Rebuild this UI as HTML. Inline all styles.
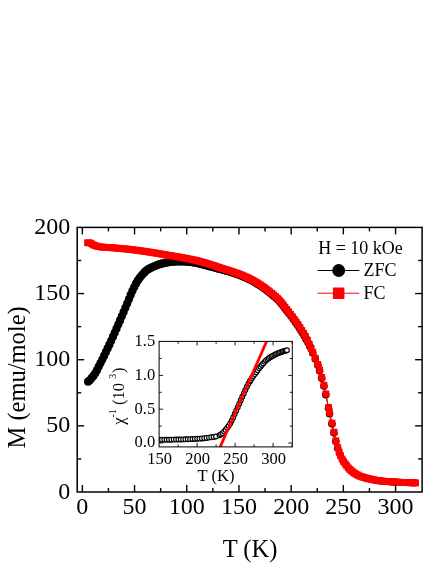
<!DOCTYPE html>
<html><head><meta charset="utf-8"><title>M vs T</title>
<style>html,body{margin:0;padding:0;background:#fff;}body{width:436px;height:564px;position:relative;overflow:hidden;font-family:"Liberation Serif",serif;}</style></head>
<body>
<svg width="436" height="564" viewBox="0 0 436 564" style="position:absolute;left:0;top:0;will-change:transform">
<rect x="0" y="0" width="436" height="564" fill="#fff"/>
<polyline points="88.09,381.66 89.87,380.27 91.64,378.09 93.42,375.93 95.19,373.37 96.97,370.15 98.74,366.62 100.52,363.10 102.29,359.54 104.07,355.89 105.84,352.19 107.61,348.46 109.39,344.68 111.16,340.81 112.94,336.85 114.71,332.81 116.49,328.71 118.26,324.58 120.04,320.43 121.81,316.24 123.59,312.02 125.36,307.77 127.14,303.52 128.91,299.28 130.69,294.94 132.46,290.79 134.24,287.07 136.01,283.63 137.79,280.62 139.56,278.10 141.34,275.80 143.11,273.75 144.89,271.94 146.66,270.36 148.44,269.13 150.21,268.13 151.98,267.27 153.76,266.48 155.53,265.75 157.31,265.08 159.08,264.47 160.86,263.93 162.63,263.45 164.41,263.02 166.18,262.67 167.96,262.34 169.73,262.05 171.51,261.81 173.28,261.66 175.06,261.56 176.83,261.47 178.61,261.42 180.38,261.40 182.16,261.44 183.93,261.51 185.71,261.60 187.48,261.72 189.26,261.88 191.03,262.10 192.81,262.36 194.58,262.64 196.35,262.95 198.13,263.31 199.90,263.73 201.68,264.19 203.45,264.66 205.23,265.14 207.00,265.61 208.78,266.06 210.55,266.52 212.33,266.98 214.10,267.44 215.88,267.92 217.65,268.39 219.43,268.88 221.20,269.36 222.98,269.85 224.75,270.34 226.53,270.84 228.30,271.34 230.08,271.85 231.85,272.36 233.63,272.88 235.40,273.50 237.18,274.13 238.95,274.78 240.72,275.45 242.50,276.16 244.27,276.90 246.05,277.68 247.82,278.52 249.60,279.41 251.37,280.35 253.15,281.33 254.92,282.35 256.70,283.40 258.47,284.49 260.25,285.61 262.02,286.79 263.80,288.03 265.57,289.32 267.35,290.66 269.12,292.04 270.90,293.47 272.67,294.91 274.45,296.40 276.22,297.95 278.00,299.61 279.77,301.42 281.55,303.50 283.32,305.87 285.09,308.24 286.87,310.48 288.64,312.70 290.42,314.95 292.19,317.28 293.97,319.68 295.74,322.15 297.52,324.73 299.29,327.41 301.07,330.19 302.84,333.06 304.62,336.02 306.39,339.20 308.17,342.70 309.94,346.52 312.76,352.95 315.27,359.04 317.88,365.26 319.65,370.81 321.74,378.22 323.93,386.03 325.81,394.63 328.53,408.25 329.57,413.68 331.97,423.87 333.95,432.86 335.83,441.46 337.71,448.34 339.17,453.10 340.43,455.49 342.10,459.06 343.56,461.49 345.12,463.75 346.69,465.85 348.26,467.83 349.82,469.48 351.39,470.89 352.95,472.10 354.52,473.17 356.09,474.13 357.65,475.05 359.22,475.85 360.78,476.48 362.35,476.98 363.92,477.43 365.48,477.88 367.05,478.31 368.61,478.70 370.18,479.05 371.75,479.40 373.31,479.74 374.88,480.06 376.44,480.35 378.01,480.61 379.58,480.83 381.14,481.00 382.71,481.16 384.27,481.31 385.84,481.44 387.41,481.56 388.97,481.68 390.54,481.78 392.10,481.88 393.67,481.97 395.24,482.06 396.80,482.14 398.37,482.23 399.93,482.30 401.50,482.38 403.07,482.45 404.63,482.52 406.20,482.59 407.76,482.65 409.33,482.71 410.90,482.76 412.46,482.80 414.03,482.84 415.59,482.87" fill="none" stroke="#000" stroke-width="1"/>
<g fill="#000">
<circle cx="88.09" cy="381.66" r="4.1"/>
<circle cx="89.87" cy="380.27" r="4.1"/>
<circle cx="91.64" cy="378.09" r="4.1"/>
<circle cx="93.42" cy="375.93" r="4.1"/>
<circle cx="95.19" cy="373.37" r="4.1"/>
<circle cx="96.97" cy="370.15" r="4.1"/>
<circle cx="98.74" cy="366.62" r="4.1"/>
<circle cx="100.52" cy="363.10" r="4.1"/>
<circle cx="102.29" cy="359.54" r="4.1"/>
<circle cx="104.07" cy="355.89" r="4.1"/>
<circle cx="105.84" cy="352.19" r="4.1"/>
<circle cx="107.61" cy="348.46" r="4.1"/>
<circle cx="109.39" cy="344.68" r="4.1"/>
<circle cx="111.16" cy="340.81" r="4.1"/>
<circle cx="112.94" cy="336.85" r="4.1"/>
<circle cx="114.71" cy="332.81" r="4.1"/>
<circle cx="116.49" cy="328.71" r="4.1"/>
<circle cx="118.26" cy="324.58" r="4.1"/>
<circle cx="120.04" cy="320.43" r="4.1"/>
<circle cx="121.81" cy="316.24" r="4.1"/>
<circle cx="123.59" cy="312.02" r="4.1"/>
<circle cx="125.36" cy="307.77" r="4.1"/>
<circle cx="127.14" cy="303.52" r="4.1"/>
<circle cx="128.91" cy="299.28" r="4.1"/>
<circle cx="130.69" cy="294.94" r="4.1"/>
<circle cx="132.46" cy="290.79" r="4.1"/>
<circle cx="134.24" cy="287.07" r="4.1"/>
<circle cx="136.01" cy="283.63" r="4.1"/>
<circle cx="137.79" cy="280.62" r="4.1"/>
<circle cx="139.56" cy="278.10" r="4.1"/>
<circle cx="141.34" cy="275.80" r="4.1"/>
<circle cx="143.11" cy="273.75" r="4.1"/>
<circle cx="144.89" cy="271.94" r="4.1"/>
<circle cx="146.66" cy="270.36" r="4.1"/>
<circle cx="148.44" cy="269.13" r="4.1"/>
<circle cx="150.21" cy="268.13" r="4.1"/>
<circle cx="151.98" cy="267.27" r="4.1"/>
<circle cx="153.76" cy="266.48" r="4.1"/>
<circle cx="155.53" cy="265.75" r="4.1"/>
<circle cx="157.31" cy="265.08" r="4.1"/>
<circle cx="159.08" cy="264.47" r="4.1"/>
<circle cx="160.86" cy="263.93" r="4.1"/>
<circle cx="162.63" cy="263.45" r="4.1"/>
<circle cx="164.41" cy="263.02" r="4.1"/>
<circle cx="166.18" cy="262.67" r="4.1"/>
<circle cx="167.96" cy="262.34" r="4.1"/>
<circle cx="169.73" cy="262.05" r="4.1"/>
<circle cx="171.51" cy="261.81" r="4.1"/>
<circle cx="173.28" cy="261.66" r="4.1"/>
<circle cx="175.06" cy="261.56" r="4.1"/>
<circle cx="176.83" cy="261.47" r="4.1"/>
<circle cx="178.61" cy="261.42" r="4.1"/>
<circle cx="180.38" cy="261.40" r="4.1"/>
<circle cx="182.16" cy="261.44" r="4.1"/>
<circle cx="183.93" cy="261.51" r="4.1"/>
<circle cx="185.71" cy="261.60" r="4.1"/>
<circle cx="187.48" cy="261.72" r="4.1"/>
<circle cx="189.26" cy="261.88" r="4.1"/>
<circle cx="191.03" cy="262.10" r="4.1"/>
<circle cx="192.81" cy="262.36" r="4.1"/>
<circle cx="194.58" cy="262.64" r="4.1"/>
<circle cx="196.35" cy="262.95" r="4.1"/>
<circle cx="198.13" cy="263.31" r="4.1"/>
<circle cx="199.90" cy="263.73" r="4.1"/>
<circle cx="201.68" cy="264.19" r="4.1"/>
<circle cx="203.45" cy="264.66" r="4.1"/>
<circle cx="205.23" cy="265.14" r="4.1"/>
<circle cx="207.00" cy="265.61" r="4.1"/>
<circle cx="208.78" cy="266.06" r="4.1"/>
<circle cx="210.55" cy="266.52" r="4.1"/>
<circle cx="212.33" cy="266.98" r="4.1"/>
<circle cx="214.10" cy="267.44" r="4.1"/>
<circle cx="215.88" cy="267.92" r="4.1"/>
<circle cx="217.65" cy="268.39" r="4.1"/>
<circle cx="219.43" cy="268.88" r="4.1"/>
<circle cx="221.20" cy="269.36" r="4.1"/>
<circle cx="222.98" cy="269.85" r="4.1"/>
<circle cx="224.75" cy="270.34" r="4.1"/>
<circle cx="226.53" cy="270.84" r="4.1"/>
<circle cx="228.30" cy="271.34" r="4.1"/>
<circle cx="230.08" cy="271.85" r="4.1"/>
<circle cx="231.85" cy="272.36" r="4.1"/>
<circle cx="233.63" cy="272.88" r="4.1"/>
<circle cx="235.40" cy="273.50" r="4.1"/>
<circle cx="237.18" cy="274.13" r="4.1"/>
<circle cx="238.95" cy="274.78" r="4.0"/>
<circle cx="240.72" cy="275.45" r="4.0"/>
<circle cx="242.50" cy="276.16" r="4.0"/>
<circle cx="244.27" cy="276.90" r="4.0"/>
<circle cx="246.05" cy="277.68" r="4.0"/>
<circle cx="247.82" cy="278.52" r="4.0"/>
<circle cx="249.60" cy="279.41" r="4.0"/>
<circle cx="251.37" cy="280.35" r="4.0"/>
<circle cx="253.15" cy="281.33" r="4.0"/>
<circle cx="254.92" cy="282.35" r="4.0"/>
<circle cx="256.70" cy="283.40" r="4.0"/>
<circle cx="258.47" cy="284.49" r="4.0"/>
<circle cx="260.25" cy="285.61" r="4.0"/>
<circle cx="262.02" cy="286.79" r="4.0"/>
<circle cx="263.80" cy="288.03" r="4.0"/>
<circle cx="265.57" cy="289.32" r="4.0"/>
<circle cx="267.35" cy="290.66" r="4.0"/>
<circle cx="269.12" cy="292.04" r="4.0"/>
<circle cx="270.90" cy="293.47" r="4.0"/>
<circle cx="272.67" cy="294.91" r="4.0"/>
<circle cx="274.45" cy="296.40" r="4.0"/>
<circle cx="276.22" cy="297.95" r="4.0"/>
<circle cx="278.00" cy="299.61" r="4.0"/>
<circle cx="279.77" cy="301.42" r="4.0"/>
<circle cx="281.55" cy="303.50" r="4.0"/>
<circle cx="283.32" cy="305.87" r="4.0"/>
<circle cx="285.09" cy="308.24" r="4.0"/>
<circle cx="286.87" cy="310.48" r="4.0"/>
<circle cx="288.64" cy="312.70" r="4.0"/>
<circle cx="290.42" cy="314.95" r="4.0"/>
<circle cx="292.19" cy="317.28" r="4.0"/>
<circle cx="293.97" cy="319.68" r="4.0"/>
<circle cx="295.74" cy="322.15" r="4.0"/>
<circle cx="297.52" cy="324.73" r="4.0"/>
<circle cx="299.29" cy="327.41" r="4.0"/>
<circle cx="301.07" cy="330.19" r="4.0"/>
<circle cx="302.84" cy="333.06" r="4.0"/>
<circle cx="304.62" cy="336.02" r="4.0"/>
<circle cx="306.39" cy="339.20" r="4.0"/>
<circle cx="308.17" cy="342.70" r="3.8"/>
<circle cx="309.94" cy="346.52" r="3.8"/>
<circle cx="312.76" cy="352.95" r="3.8"/>
<circle cx="315.27" cy="359.04" r="3.8"/>
<circle cx="317.88" cy="365.26" r="3.8"/>
<circle cx="319.65" cy="370.81" r="3.8"/>
<circle cx="321.74" cy="378.22" r="3.8"/>
<circle cx="323.93" cy="386.03" r="3.8"/>
<circle cx="325.81" cy="394.63" r="3.8"/>
<circle cx="328.53" cy="408.25" r="3.8"/>
<circle cx="329.57" cy="413.68" r="3.8"/>
<circle cx="331.97" cy="423.87" r="3.8"/>
<circle cx="333.95" cy="432.86" r="3.8"/>
<circle cx="335.83" cy="441.46" r="3.8"/>
<circle cx="337.71" cy="448.34" r="3.8"/>
<circle cx="339.17" cy="453.10" r="3.4"/>
<circle cx="340.43" cy="455.49" r="3.4"/>
<circle cx="342.10" cy="459.06" r="3.4"/>
<circle cx="343.56" cy="461.49" r="3.4"/>
<circle cx="345.12" cy="463.75" r="3.4"/>
<circle cx="346.69" cy="465.85" r="3.4"/>
<circle cx="348.26" cy="467.83" r="3.4"/>
<circle cx="349.82" cy="469.48" r="3.4"/>
<circle cx="351.39" cy="470.89" r="3.4"/>
<circle cx="352.95" cy="472.10" r="3.4"/>
<circle cx="354.52" cy="473.17" r="3.4"/>
<circle cx="356.09" cy="474.13" r="3.4"/>
<circle cx="357.65" cy="475.05" r="3.4"/>
<circle cx="359.22" cy="475.85" r="3.4"/>
<circle cx="360.78" cy="476.48" r="3.4"/>
<circle cx="362.35" cy="476.98" r="3.4"/>
<circle cx="363.92" cy="477.43" r="3.4"/>
<circle cx="365.48" cy="477.88" r="3.4"/>
<circle cx="367.05" cy="478.31" r="3.4"/>
<circle cx="368.61" cy="478.70" r="3.4"/>
<circle cx="370.18" cy="479.05" r="3.4"/>
<circle cx="371.75" cy="479.40" r="3.4"/>
<circle cx="373.31" cy="479.74" r="3.4"/>
<circle cx="374.88" cy="480.06" r="3.4"/>
<circle cx="376.44" cy="480.35" r="3.4"/>
<circle cx="378.01" cy="480.61" r="3.4"/>
<circle cx="379.58" cy="480.83" r="3.4"/>
<circle cx="381.14" cy="481.00" r="3.4"/>
<circle cx="382.71" cy="481.16" r="3.4"/>
<circle cx="384.27" cy="481.31" r="3.4"/>
<circle cx="385.84" cy="481.44" r="3.4"/>
<circle cx="387.41" cy="481.56" r="3.4"/>
<circle cx="388.97" cy="481.68" r="3.4"/>
<circle cx="390.54" cy="481.78" r="3.4"/>
<circle cx="392.10" cy="481.88" r="3.4"/>
<circle cx="393.67" cy="481.97" r="3.4"/>
<circle cx="395.24" cy="482.06" r="3.4"/>
<circle cx="396.80" cy="482.14" r="3.4"/>
<circle cx="398.37" cy="482.23" r="3.4"/>
<circle cx="399.93" cy="482.30" r="3.4"/>
<circle cx="401.50" cy="482.38" r="3.4"/>
<circle cx="403.07" cy="482.45" r="3.4"/>
<circle cx="404.63" cy="482.52" r="3.4"/>
<circle cx="406.20" cy="482.59" r="3.4"/>
<circle cx="407.76" cy="482.65" r="3.4"/>
<circle cx="409.33" cy="482.71" r="3.4"/>
<circle cx="410.90" cy="482.76" r="3.4"/>
<circle cx="412.46" cy="482.80" r="3.4"/>
<circle cx="414.03" cy="482.84" r="3.4"/>
<circle cx="415.59" cy="482.87" r="3.4"/>
</g>
<polyline points="87.57,242.75 89.45,242.75 91.33,243.66 93.21,244.81 95.09,245.64 96.97,246.21 98.85,246.62 100.72,246.94 102.60,247.15 104.48,247.27 106.36,247.36 108.24,247.46 110.12,247.60 112.00,247.76 113.88,247.92 115.76,248.08 117.64,248.24 119.52,248.39 121.40,248.55 123.27,248.72 125.15,248.89 127.03,249.08 128.91,249.28 130.79,249.50 132.67,249.73 134.55,249.98 136.43,250.23 138.31,250.49 140.19,250.74 142.07,251.00 143.95,251.27 145.83,251.55 147.70,251.83 149.58,252.11 151.46,252.41 153.34,252.70 155.22,253.01 157.10,253.33 158.98,253.66 160.86,253.98 162.74,254.32 164.62,254.65 166.50,254.98 168.38,255.30 170.25,255.61 172.13,255.92 174.01,256.22 175.89,256.52 177.77,256.84 179.65,257.17 181.53,257.51 183.41,257.86 185.29,258.21 187.17,258.57 189.05,258.94 190.93,259.31 192.81,259.70 194.68,260.11 196.56,260.56 198.44,261.04 200.32,261.54 202.20,262.06 204.08,262.60 205.96,263.15 207.84,263.71 209.72,264.29 211.60,264.90 213.48,265.52 215.36,266.15 217.23,266.78 219.11,267.41 220.99,268.02 222.87,268.62 224.75,269.20 226.63,269.79 228.51,270.38 230.39,270.99 232.27,271.61 234.15,272.26 236.03,272.93 237.91,273.60 239.79,274.30 241.66,275.03 243.54,275.79 245.42,276.61 247.30,277.48 249.18,278.41 251.06,279.39 252.94,280.42 254.82,281.49 256.70,282.61 258.58,283.77 260.46,284.96 262.34,286.21 264.21,287.53 266.09,288.91 267.97,290.35 269.85,291.83 271.73,293.35 273.61,294.90 275.49,296.50 277.37,298.22 279.25,300.07 281.13,302.18 283.01,304.65 284.89,307.17 286.77,309.55 288.64,311.90 290.52,314.29 292.40,316.77 294.28,319.31 296.16,321.96 298.04,324.71 299.92,327.58 301.80,330.57 303.68,333.64 305.56,336.88 307.44,340.42 309.32,344.35 311.19,348.55 312.76,352.16 315.27,358.24 317.88,364.46 319.65,370.02 321.74,377.43 323.93,385.23 325.81,393.83 328.53,407.46 329.57,412.88 331.97,423.07 333.95,432.07 335.83,440.67 337.71,447.55 339.17,452.31 340.43,455.49 342.10,459.06 343.56,461.49 345.12,463.75 346.69,465.85 348.26,467.83 349.82,469.48 351.39,470.89 352.95,472.10 354.52,473.17 356.09,474.13 357.65,475.05 359.22,475.85 360.78,476.48 362.35,476.98 363.92,477.43 365.48,477.88 367.05,478.31 368.61,478.70 370.18,479.05 371.75,479.40 373.31,479.74 374.88,480.06 376.44,480.35 378.01,480.61 379.58,480.83 381.14,481.00 382.71,481.16 384.27,481.31 385.84,481.44 387.41,481.56 388.97,481.68 390.54,481.78 392.10,481.88 393.67,481.97 395.24,482.06 396.80,482.14 398.37,482.23 399.93,482.30 401.50,482.38 403.07,482.45 404.63,482.52 406.20,482.59 407.76,482.65 409.33,482.71 410.90,482.76 412.46,482.80 414.03,482.84 415.59,482.87" fill="none" stroke="#f00" stroke-width="1"/>
<g fill="#f00">
<rect x="84.17" y="239.35" width="6.8" height="6.8"/>
<rect x="86.05" y="239.35" width="6.8" height="6.8"/>
<rect x="87.93" y="240.26" width="6.8" height="6.8"/>
<rect x="89.81" y="241.41" width="6.8" height="6.8"/>
<rect x="91.69" y="242.24" width="6.8" height="6.8"/>
<rect x="93.57" y="242.81" width="6.8" height="6.8"/>
<rect x="95.45" y="243.22" width="6.8" height="6.8"/>
<rect x="97.32" y="243.54" width="6.8" height="6.8"/>
<rect x="99.20" y="243.75" width="6.8" height="6.8"/>
<rect x="101.08" y="243.87" width="6.8" height="6.8"/>
<rect x="102.96" y="243.96" width="6.8" height="6.8"/>
<rect x="104.84" y="244.06" width="6.8" height="6.8"/>
<rect x="106.72" y="244.20" width="6.8" height="6.8"/>
<rect x="108.60" y="244.36" width="6.8" height="6.8"/>
<rect x="110.48" y="244.52" width="6.8" height="6.8"/>
<rect x="112.36" y="244.68" width="6.8" height="6.8"/>
<rect x="114.24" y="244.84" width="6.8" height="6.8"/>
<rect x="116.12" y="244.99" width="6.8" height="6.8"/>
<rect x="118.00" y="245.15" width="6.8" height="6.8"/>
<rect x="119.87" y="245.32" width="6.8" height="6.8"/>
<rect x="121.75" y="245.49" width="6.8" height="6.8"/>
<rect x="123.63" y="245.68" width="6.8" height="6.8"/>
<rect x="125.51" y="245.88" width="6.8" height="6.8"/>
<rect x="127.39" y="246.10" width="6.8" height="6.8"/>
<rect x="129.27" y="246.33" width="6.8" height="6.8"/>
<rect x="131.15" y="246.58" width="6.8" height="6.8"/>
<rect x="133.03" y="246.83" width="6.8" height="6.8"/>
<rect x="134.91" y="247.09" width="6.8" height="6.8"/>
<rect x="136.79" y="247.34" width="6.8" height="6.8"/>
<rect x="138.67" y="247.60" width="6.8" height="6.8"/>
<rect x="140.55" y="247.87" width="6.8" height="6.8"/>
<rect x="142.43" y="248.15" width="6.8" height="6.8"/>
<rect x="144.30" y="248.43" width="6.8" height="6.8"/>
<rect x="146.18" y="248.71" width="6.8" height="6.8"/>
<rect x="148.06" y="249.01" width="6.8" height="6.8"/>
<rect x="149.94" y="249.30" width="6.8" height="6.8"/>
<rect x="151.82" y="249.61" width="6.8" height="6.8"/>
<rect x="153.70" y="249.93" width="6.8" height="6.8"/>
<rect x="155.58" y="250.26" width="6.8" height="6.8"/>
<rect x="157.46" y="250.58" width="6.8" height="6.8"/>
<rect x="159.34" y="250.92" width="6.8" height="6.8"/>
<rect x="161.22" y="251.25" width="6.8" height="6.8"/>
<rect x="163.10" y="251.58" width="6.8" height="6.8"/>
<rect x="164.98" y="251.90" width="6.8" height="6.8"/>
<rect x="166.85" y="252.21" width="6.8" height="6.8"/>
<rect x="168.73" y="252.52" width="6.8" height="6.8"/>
<rect x="170.61" y="252.82" width="6.8" height="6.8"/>
<rect x="172.49" y="253.12" width="6.8" height="6.8"/>
<rect x="174.37" y="253.44" width="6.8" height="6.8"/>
<rect x="176.25" y="253.77" width="6.8" height="6.8"/>
<rect x="178.13" y="254.11" width="6.8" height="6.8"/>
<rect x="180.01" y="254.46" width="6.8" height="6.8"/>
<rect x="181.89" y="254.81" width="6.8" height="6.8"/>
<rect x="183.77" y="255.17" width="6.8" height="6.8"/>
<rect x="185.65" y="255.54" width="6.8" height="6.8"/>
<rect x="187.53" y="255.91" width="6.8" height="6.8"/>
<rect x="189.41" y="256.30" width="6.8" height="6.8"/>
<rect x="191.28" y="256.71" width="6.8" height="6.8"/>
<rect x="193.16" y="257.16" width="6.8" height="6.8"/>
<rect x="195.04" y="257.64" width="6.8" height="6.8"/>
<rect x="196.92" y="258.14" width="6.8" height="6.8"/>
<rect x="198.80" y="258.66" width="6.8" height="6.8"/>
<rect x="200.68" y="259.20" width="6.8" height="6.8"/>
<rect x="202.56" y="259.75" width="6.8" height="6.8"/>
<rect x="204.44" y="260.31" width="6.8" height="6.8"/>
<rect x="206.32" y="260.89" width="6.8" height="6.8"/>
<rect x="208.20" y="261.50" width="6.8" height="6.8"/>
<rect x="210.08" y="262.12" width="6.8" height="6.8"/>
<rect x="211.96" y="262.75" width="6.8" height="6.8"/>
<rect x="213.83" y="263.38" width="6.8" height="6.8"/>
<rect x="215.71" y="264.01" width="6.8" height="6.8"/>
<rect x="217.59" y="264.62" width="6.8" height="6.8"/>
<rect x="219.47" y="265.22" width="6.8" height="6.8"/>
<rect x="221.35" y="265.80" width="6.8" height="6.8"/>
<rect x="223.23" y="266.39" width="6.8" height="6.8"/>
<rect x="225.11" y="266.98" width="6.8" height="6.8"/>
<rect x="226.99" y="267.59" width="6.8" height="6.8"/>
<rect x="228.87" y="268.21" width="6.8" height="6.8"/>
<rect x="230.75" y="268.86" width="6.8" height="6.8"/>
<rect x="232.63" y="269.53" width="6.8" height="6.8"/>
<rect x="234.51" y="270.20" width="6.8" height="6.8"/>
<rect x="236.39" y="270.90" width="6.8" height="6.8"/>
<rect x="238.26" y="271.63" width="6.8" height="6.8"/>
<rect x="240.14" y="272.39" width="6.8" height="6.8"/>
<rect x="242.02" y="273.21" width="6.8" height="6.8"/>
<rect x="243.90" y="274.08" width="6.8" height="6.8"/>
<rect x="245.78" y="275.01" width="6.8" height="6.8"/>
<rect x="247.66" y="275.99" width="6.8" height="6.8"/>
<rect x="249.54" y="277.02" width="6.8" height="6.8"/>
<rect x="251.42" y="278.09" width="6.8" height="6.8"/>
<rect x="253.30" y="279.21" width="6.8" height="6.8"/>
<rect x="255.18" y="280.37" width="6.8" height="6.8"/>
<rect x="257.06" y="281.56" width="6.8" height="6.8"/>
<rect x="258.94" y="282.81" width="6.8" height="6.8"/>
<rect x="260.81" y="284.13" width="6.8" height="6.8"/>
<rect x="262.69" y="285.51" width="6.8" height="6.8"/>
<rect x="264.57" y="286.95" width="6.8" height="6.8"/>
<rect x="266.45" y="288.43" width="6.8" height="6.8"/>
<rect x="268.33" y="289.95" width="6.8" height="6.8"/>
<rect x="270.21" y="291.50" width="6.8" height="6.8"/>
<rect x="272.09" y="293.10" width="6.8" height="6.8"/>
<rect x="273.97" y="294.82" width="6.8" height="6.8"/>
<rect x="275.85" y="296.67" width="6.8" height="6.8"/>
<rect x="277.73" y="298.78" width="6.8" height="6.8"/>
<rect x="279.61" y="301.25" width="6.8" height="6.8"/>
<rect x="281.49" y="303.77" width="6.8" height="6.8"/>
<rect x="283.37" y="306.15" width="6.8" height="6.8"/>
<rect x="285.24" y="308.50" width="6.8" height="6.8"/>
<rect x="287.12" y="310.89" width="6.8" height="6.8"/>
<rect x="289.00" y="313.37" width="6.8" height="6.8"/>
<rect x="290.88" y="315.91" width="6.8" height="6.8"/>
<rect x="292.76" y="318.56" width="6.8" height="6.8"/>
<rect x="294.64" y="321.31" width="6.8" height="6.8"/>
<rect x="296.52" y="324.18" width="6.8" height="6.8"/>
<rect x="298.40" y="327.17" width="6.8" height="6.8"/>
<rect x="300.28" y="330.24" width="6.8" height="6.8"/>
<rect x="302.16" y="333.48" width="6.8" height="6.8"/>
<rect x="304.04" y="337.02" width="6.8" height="6.8"/>
<rect x="305.92" y="340.95" width="6.8" height="6.8"/>
<rect x="307.79" y="345.15" width="6.8" height="6.8"/>
<rect x="309.36" y="348.76" width="6.8" height="6.8"/>
<rect x="311.87" y="354.84" width="6.8" height="6.8"/>
<rect x="314.48" y="361.06" width="6.8" height="6.8"/>
<rect x="316.25" y="366.62" width="6.8" height="6.8"/>
<rect x="318.34" y="374.03" width="6.8" height="6.8"/>
<rect x="320.53" y="381.83" width="6.8" height="6.8"/>
<rect x="322.41" y="390.43" width="6.8" height="6.8"/>
<rect x="325.13" y="404.06" width="6.8" height="6.8"/>
<rect x="326.17" y="409.48" width="6.8" height="6.8"/>
<rect x="328.57" y="419.67" width="6.8" height="6.8"/>
<rect x="330.55" y="428.67" width="6.8" height="6.8"/>
<rect x="332.43" y="437.27" width="6.8" height="6.8"/>
<rect x="334.31" y="444.15" width="6.8" height="6.8"/>
<rect x="335.77" y="448.91" width="6.8" height="6.8"/>
<rect x="337.03" y="452.09" width="6.8" height="6.8"/>
<rect x="338.70" y="455.66" width="6.8" height="6.8"/>
<rect x="340.16" y="458.09" width="6.8" height="6.8"/>
<rect x="341.72" y="460.35" width="6.8" height="6.8"/>
<rect x="343.29" y="462.45" width="6.8" height="6.8"/>
<rect x="344.86" y="464.43" width="6.8" height="6.8"/>
<rect x="346.42" y="466.08" width="6.8" height="6.8"/>
<rect x="347.99" y="467.49" width="6.8" height="6.8"/>
<rect x="349.55" y="468.70" width="6.8" height="6.8"/>
<rect x="351.12" y="469.77" width="6.8" height="6.8"/>
<rect x="352.69" y="470.73" width="6.8" height="6.8"/>
<rect x="354.25" y="471.65" width="6.8" height="6.8"/>
<rect x="355.82" y="472.45" width="6.8" height="6.8"/>
<rect x="357.38" y="473.08" width="6.8" height="6.8"/>
<rect x="358.95" y="473.58" width="6.8" height="6.8"/>
<rect x="360.52" y="474.03" width="6.8" height="6.8"/>
<rect x="362.08" y="474.48" width="6.8" height="6.8"/>
<rect x="363.65" y="474.91" width="6.8" height="6.8"/>
<rect x="365.21" y="475.30" width="6.8" height="6.8"/>
<rect x="366.78" y="475.65" width="6.8" height="6.8"/>
<rect x="368.35" y="476.00" width="6.8" height="6.8"/>
<rect x="369.91" y="476.34" width="6.8" height="6.8"/>
<rect x="371.48" y="476.66" width="6.8" height="6.8"/>
<rect x="373.04" y="476.95" width="6.8" height="6.8"/>
<rect x="374.61" y="477.21" width="6.8" height="6.8"/>
<rect x="376.18" y="477.43" width="6.8" height="6.8"/>
<rect x="377.74" y="477.60" width="6.8" height="6.8"/>
<rect x="379.31" y="477.76" width="6.8" height="6.8"/>
<rect x="380.87" y="477.91" width="6.8" height="6.8"/>
<rect x="382.44" y="478.04" width="6.8" height="6.8"/>
<rect x="384.01" y="478.16" width="6.8" height="6.8"/>
<rect x="385.57" y="478.28" width="6.8" height="6.8"/>
<rect x="387.14" y="478.38" width="6.8" height="6.8"/>
<rect x="388.70" y="478.48" width="6.8" height="6.8"/>
<rect x="390.27" y="478.57" width="6.8" height="6.8"/>
<rect x="391.84" y="478.66" width="6.8" height="6.8"/>
<rect x="393.40" y="478.74" width="6.8" height="6.8"/>
<rect x="394.97" y="478.83" width="6.8" height="6.8"/>
<rect x="396.53" y="478.90" width="6.8" height="6.8"/>
<rect x="398.10" y="478.98" width="6.8" height="6.8"/>
<rect x="399.67" y="479.05" width="6.8" height="6.8"/>
<rect x="401.23" y="479.12" width="6.8" height="6.8"/>
<rect x="402.80" y="479.19" width="6.8" height="6.8"/>
<rect x="404.36" y="479.25" width="6.8" height="6.8"/>
<rect x="405.93" y="479.31" width="6.8" height="6.8"/>
<rect x="407.50" y="479.36" width="6.8" height="6.8"/>
<rect x="409.06" y="479.40" width="6.8" height="6.8"/>
<rect x="410.63" y="479.44" width="6.8" height="6.8"/>
<rect x="412.19" y="479.47" width="6.8" height="6.8"/>
</g>
<rect x="77.2" y="227.4" width="344.90" height="264.60" fill="none" stroke="#000" stroke-width="1.5"/>
<g stroke="#000" stroke-width="1.4">
<line x1="82.35" y1="492.0" x2="82.35" y2="485.0"/>
<line x1="82.35" y1="227.4" x2="82.35" y2="234.4"/>
<line x1="108.45" y1="492.0" x2="108.45" y2="488.0"/>
<line x1="108.45" y1="227.4" x2="108.45" y2="231.4"/>
<line x1="134.55" y1="492.0" x2="134.55" y2="485.0"/>
<line x1="134.55" y1="227.4" x2="134.55" y2="234.4"/>
<line x1="160.65" y1="492.0" x2="160.65" y2="488.0"/>
<line x1="160.65" y1="227.4" x2="160.65" y2="231.4"/>
<line x1="186.75" y1="492.0" x2="186.75" y2="485.0"/>
<line x1="186.75" y1="227.4" x2="186.75" y2="234.4"/>
<line x1="212.85" y1="492.0" x2="212.85" y2="488.0"/>
<line x1="212.85" y1="227.4" x2="212.85" y2="231.4"/>
<line x1="238.95" y1="492.0" x2="238.95" y2="485.0"/>
<line x1="238.95" y1="227.4" x2="238.95" y2="234.4"/>
<line x1="265.05" y1="492.0" x2="265.05" y2="488.0"/>
<line x1="265.05" y1="227.4" x2="265.05" y2="231.4"/>
<line x1="291.15" y1="492.0" x2="291.15" y2="485.0"/>
<line x1="291.15" y1="227.4" x2="291.15" y2="234.4"/>
<line x1="317.25" y1="492.0" x2="317.25" y2="488.0"/>
<line x1="317.25" y1="227.4" x2="317.25" y2="231.4"/>
<line x1="343.35" y1="492.0" x2="343.35" y2="485.0"/>
<line x1="343.35" y1="227.4" x2="343.35" y2="234.4"/>
<line x1="369.45" y1="492.0" x2="369.45" y2="488.0"/>
<line x1="369.45" y1="227.4" x2="369.45" y2="231.4"/>
<line x1="395.55" y1="492.0" x2="395.55" y2="485.0"/>
<line x1="395.55" y1="227.4" x2="395.55" y2="234.4"/>
<line x1="77.2" y1="458.93" x2="81.2" y2="458.93"/>
<line x1="422.1" y1="458.93" x2="418.1" y2="458.93"/>
<line x1="77.2" y1="425.85" x2="84.2" y2="425.85"/>
<line x1="422.1" y1="425.85" x2="415.1" y2="425.85"/>
<line x1="77.2" y1="392.77" x2="81.2" y2="392.77"/>
<line x1="422.1" y1="392.77" x2="418.1" y2="392.77"/>
<line x1="77.2" y1="359.70" x2="84.2" y2="359.70"/>
<line x1="422.1" y1="359.70" x2="415.1" y2="359.70"/>
<line x1="77.2" y1="326.62" x2="81.2" y2="326.62"/>
<line x1="422.1" y1="326.62" x2="418.1" y2="326.62"/>
<line x1="77.2" y1="293.55" x2="84.2" y2="293.55"/>
<line x1="422.1" y1="293.55" x2="415.1" y2="293.55"/>
<line x1="77.2" y1="260.47" x2="81.2" y2="260.47"/>
<line x1="422.1" y1="260.47" x2="418.1" y2="260.47"/>
</g>
<g font-family="Liberation Serif, serif" font-size="24px" fill="#000">
<text x="82.35" y="514" text-anchor="middle">0</text>
<text x="134.55" y="514" text-anchor="middle">50</text>
<text x="186.75" y="514" text-anchor="middle">100</text>
<text x="238.95" y="514" text-anchor="middle">150</text>
<text x="291.15" y="514" text-anchor="middle">200</text>
<text x="343.35" y="514" text-anchor="middle">250</text>
<text x="395.55" y="514" text-anchor="middle">300</text>
<text x="70.2" y="498.50" text-anchor="end">0</text>
<text x="70.2" y="432.35" text-anchor="end">50</text>
<text x="70.2" y="366.20" text-anchor="end">100</text>
<text x="70.2" y="300.05" text-anchor="end">150</text>
<text x="70.2" y="233.90" text-anchor="end">200</text>
</g>
<g font-family="Liberation Serif, serif" font-size="24.5px" fill="#000">
<text x="250" y="556.6" text-anchor="middle">T (K)</text>
<text transform="translate(25.3,377.4) rotate(-90)" text-anchor="middle">M (emu/mole)</text>
</g>
<g font-family="Liberation Serif, serif" font-size="18px" fill="#000">
<text x="318.2" y="254.2">H = 10 kOe</text>
<text x="363.6" y="276.4">ZFC</text>
<text x="363.6" y="299.0">FC</text>
</g>
<line x1="317.6" y1="270.5" x2="359.3" y2="270.5" stroke="#000" stroke-width="1"/>
<circle cx="338.7" cy="270.5" r="6.45" fill="#000"/>
<line x1="317.6" y1="293.2" x2="359.3" y2="293.2" stroke="#f00" stroke-width="1"/>
<rect x="332.9" y="287.5" width="11.5" height="11.5" fill="#f00"/>
<rect x="159.1" y="341.4" width="133.20" height="105.50" fill="#fff" stroke="none"/>
<clipPath id="ic"><rect x="159.1" y="341.4" width="133.20" height="105.50"/></clipPath>
<g fill="#fff" stroke="#000" stroke-width="1.15" clip-path="url(#ic)">
<circle cx="159.60" cy="439.80" r="2.4"/>
<circle cx="161.95" cy="439.79" r="2.4"/>
<circle cx="164.30" cy="439.77" r="2.4"/>
<circle cx="166.65" cy="439.74" r="2.4"/>
<circle cx="169.00" cy="439.70" r="2.4"/>
<circle cx="171.35" cy="439.66" r="2.4"/>
<circle cx="173.70" cy="439.62" r="2.4"/>
<circle cx="176.05" cy="439.58" r="2.4"/>
<circle cx="178.40" cy="439.53" r="2.4"/>
<circle cx="180.75" cy="439.46" r="2.4"/>
<circle cx="183.10" cy="439.39" r="2.4"/>
<circle cx="185.45" cy="439.31" r="2.4"/>
<circle cx="187.80" cy="439.22" r="2.4"/>
<circle cx="190.15" cy="439.13" r="2.4"/>
<circle cx="192.50" cy="439.03" r="2.4"/>
<circle cx="194.85" cy="438.91" r="2.4"/>
<circle cx="197.20" cy="438.78" r="2.4"/>
<circle cx="199.55" cy="438.63" r="2.4"/>
<circle cx="201.90" cy="438.44" r="2.4"/>
<circle cx="204.25" cy="438.19" r="2.4"/>
<circle cx="206.60" cy="437.90" r="2.4"/>
<circle cx="208.95" cy="437.61" r="2.4"/>
<circle cx="211.30" cy="437.32" r="2.4"/>
<circle cx="213.65" cy="436.96" r="2.4"/>
<circle cx="216.00" cy="436.47" r="2.4"/>
<circle cx="219.50" cy="435.25" r="2.4"/>
<circle cx="221.02" cy="434.31" r="2.4"/>
<circle cx="222.54" cy="433.15" r="2.4"/>
<circle cx="224.06" cy="431.62" r="2.4"/>
<circle cx="225.58" cy="429.91" r="2.4"/>
<circle cx="227.10" cy="428.03" r="2.4"/>
<circle cx="228.62" cy="425.96" r="2.4"/>
<circle cx="230.14" cy="423.60" r="2.4"/>
<circle cx="231.66" cy="420.70" r="2.4"/>
<circle cx="233.18" cy="417.40" r="2.4"/>
<circle cx="234.70" cy="414.07" r="2.4"/>
<circle cx="236.22" cy="410.65" r="2.4"/>
<circle cx="237.74" cy="407.17" r="2.4"/>
<circle cx="239.26" cy="403.68" r="2.4"/>
<circle cx="240.78" cy="400.24" r="2.4"/>
<circle cx="242.30" cy="396.79" r="2.4"/>
<circle cx="243.82" cy="393.38" r="2.4"/>
<circle cx="245.34" cy="390.06" r="2.4"/>
<circle cx="246.86" cy="386.75" r="2.4"/>
<circle cx="248.38" cy="383.72" r="2.4"/>
<circle cx="249.90" cy="381.22" r="2.4"/>
<circle cx="250.60" cy="380.15" r="2.4"/>
<circle cx="252.00" cy="378.04" r="2.4"/>
<circle cx="253.40" cy="376.02" r="2.4"/>
<circle cx="254.80" cy="374.12" r="2.4"/>
<circle cx="256.20" cy="372.20" r="2.4"/>
<circle cx="257.60" cy="370.21" r="2.4"/>
<circle cx="259.00" cy="368.36" r="2.4"/>
<circle cx="260.40" cy="366.67" r="2.4"/>
<circle cx="261.80" cy="365.05" r="2.4"/>
<circle cx="263.20" cy="363.42" r="2.4"/>
<circle cx="264.60" cy="361.86" r="2.4"/>
<circle cx="266.00" cy="360.50" r="2.4"/>
<circle cx="267.40" cy="359.35" r="2.4"/>
<circle cx="268.80" cy="358.29" r="2.4"/>
<circle cx="270.20" cy="357.33" r="2.4"/>
<circle cx="271.60" cy="356.45" r="2.4"/>
<circle cx="273.00" cy="355.65" r="2.4"/>
<circle cx="274.40" cy="354.91" r="2.4"/>
<circle cx="275.80" cy="354.23" r="2.4"/>
<circle cx="277.20" cy="353.61" r="2.4"/>
<circle cx="278.60" cy="353.03" r="2.4"/>
<circle cx="280.00" cy="352.49" r="2.4"/>
<circle cx="281.40" cy="351.98" r="2.4"/>
<circle cx="282.80" cy="351.50" r="2.4"/>
<circle cx="284.20" cy="351.05" r="2.4"/>
<circle cx="285.60" cy="350.64" r="2.4"/>
<circle cx="286.90" cy="350.30" r="2.4"/>
</g>
<line x1="219.8" y1="447.8" x2="266.9" y2="340.8" stroke="#f00" stroke-width="2.8" clip-path="url(#ic)"/>
<rect x="159.1" y="341.4" width="133.20" height="105.50" fill="none" stroke="#000" stroke-width="1"/>
<g stroke="#000" stroke-width="0.9">
<line x1="178.10" y1="446.9" x2="178.10" y2="444.4"/>
<line x1="178.10" y1="341.4" x2="178.10" y2="343.9"/>
<line x1="197.10" y1="446.9" x2="197.10" y2="442.9"/>
<line x1="197.10" y1="341.4" x2="197.10" y2="345.4"/>
<line x1="216.10" y1="446.9" x2="216.10" y2="444.4"/>
<line x1="216.10" y1="341.4" x2="216.10" y2="343.9"/>
<line x1="235.10" y1="446.9" x2="235.10" y2="442.9"/>
<line x1="235.10" y1="341.4" x2="235.10" y2="345.4"/>
<line x1="254.10" y1="446.9" x2="254.10" y2="444.4"/>
<line x1="254.10" y1="341.4" x2="254.10" y2="343.9"/>
<line x1="273.10" y1="446.9" x2="273.10" y2="442.9"/>
<line x1="273.10" y1="341.4" x2="273.10" y2="345.4"/>
<line x1="292.10" y1="446.9" x2="292.10" y2="444.4"/>
<line x1="292.10" y1="341.4" x2="292.10" y2="343.9"/>
<line x1="159.1" y1="443.00" x2="163.1" y2="443.00"/>
<line x1="292.3" y1="443.00" x2="288.3" y2="443.00"/>
<line x1="159.1" y1="426.10" x2="161.6" y2="426.10"/>
<line x1="292.3" y1="426.10" x2="289.8" y2="426.10"/>
<line x1="159.1" y1="409.20" x2="163.1" y2="409.20"/>
<line x1="292.3" y1="409.20" x2="288.3" y2="409.20"/>
<line x1="159.1" y1="392.30" x2="161.6" y2="392.30"/>
<line x1="292.3" y1="392.30" x2="289.8" y2="392.30"/>
<line x1="159.1" y1="375.40" x2="163.1" y2="375.40"/>
<line x1="292.3" y1="375.40" x2="288.3" y2="375.40"/>
<line x1="159.1" y1="358.50" x2="161.6" y2="358.50"/>
<line x1="292.3" y1="358.50" x2="289.8" y2="358.50"/>
</g>
<g font-family="Liberation Serif, serif" font-size="16.5px" fill="#000">
<text x="159.70" y="464" text-anchor="middle">150</text>
<text x="197.70" y="464" text-anchor="middle">200</text>
<text x="235.70" y="464" text-anchor="middle">250</text>
<text x="273.70" y="464" text-anchor="middle">300</text>
<text x="155.2" y="447.40" text-anchor="end">0.0</text>
<text x="155.2" y="413.60" text-anchor="end">0.5</text>
<text x="155.2" y="379.80" text-anchor="end">1.0</text>
<text x="155.2" y="346.00" text-anchor="end">1.5</text>
<text x="216" y="481.2" text-anchor="middle">T (K)</text>
<text transform="translate(124.2,424.8) rotate(-90)">χ<tspan font-size="10px" dy="-8">-1</tspan><tspan dy="8"> (10</tspan><tspan font-size="10px" dy="-8" dx="4.3">3</tspan><tspan dy="8" dx="0.6">)</tspan></text>
</g>
</svg>
</body></html>
